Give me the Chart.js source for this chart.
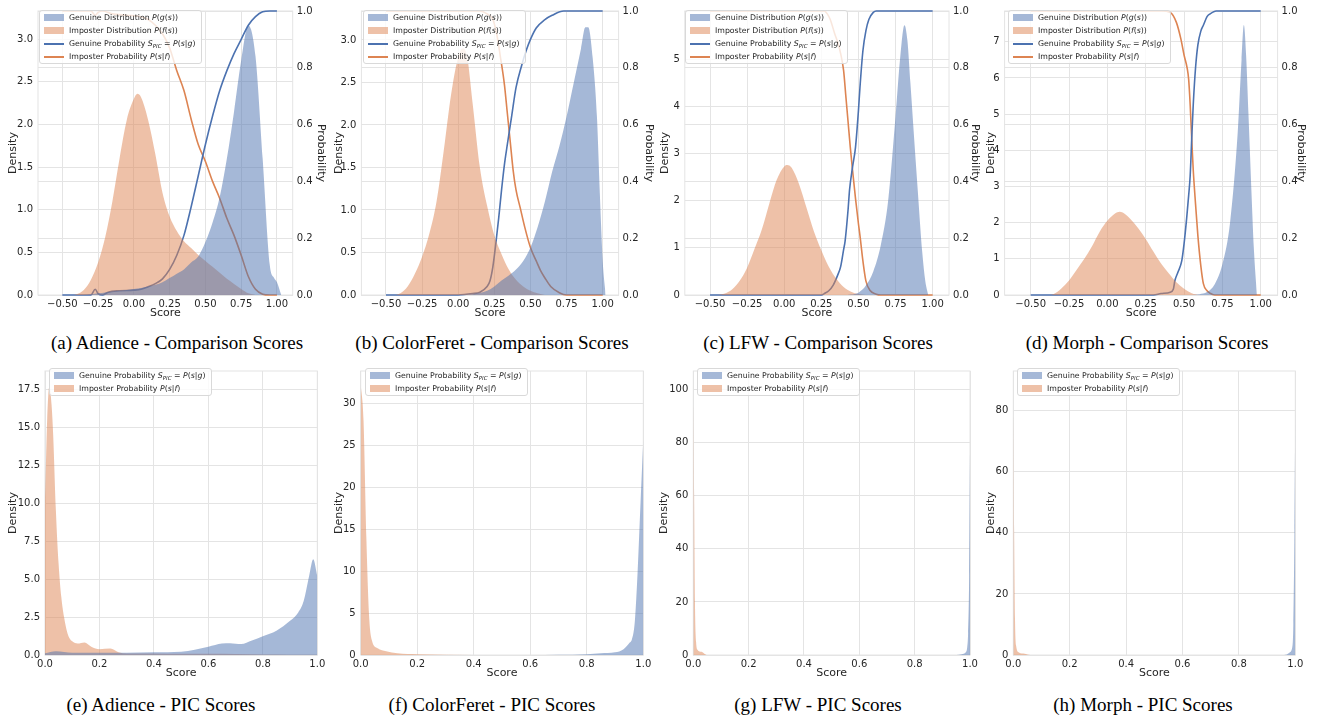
<!DOCTYPE html>
<html>
<head>
<meta charset="utf-8">
<script src="https://cdn.jsdelivr.net/npm/chart.js@4.4.1/dist/chart.umd.min.js"></script>
<style>
  body { margin: 0; background: #fff; width: 1318px; height: 721px; overflow: hidden; position: relative; font-family: "DejaVu Sans", sans-serif; }
  canvas { position: absolute; }
  .legenda { position: absolute; background: rgba(255,255,255,0.8); border: 1px solid #d9d9d9; border-radius: 3px; font-size: 7.8px; color: #262626; padding: 0 5px 0 4px; }
  .legenda-item { height: 13px; display: flex; align-items: center; white-space: nowrap; }
  .legenda-cor { display: inline-block; width: 20px; height: 7px; margin-right: 5px; }
  .legenda-linha { display: inline-block; width: 20px; height: 2px; margin-right: 5px; }
  .legenda-item sub { font-size: 5.5px; font-style: italic; vertical-align: baseline; position: relative; top: 1.5px; }
  .caption { position: absolute; width: 330px; font-family: "Liberation Serif", "Times New Roman", serif; font-size: 19px; color: #000; text-align: center; white-space: nowrap; }
</style>
</head>
<body>
<script>
// --- dados: pares [score, valor] ---
// (a) Adience - comparison scores
const aGenDist = [[-0.5,0],[-0.35,0],[-0.3,0.01],[-0.25,0.02],[-0.2,0.03],[-0.1,0.05],[0,0.07],[0.1,0.1],[0.2,0.15],[0.25,0.2],[0.3,0.25],[0.35,0.3],[0.4,0.38],[0.45,0.45],[0.5,0.62],[0.55,0.85],[0.6,1.15],[0.65,1.6],[0.7,2.15],[0.75,2.75],[0.8,3.16],[0.85,2.8],[0.9,1.6],[0.95,0.35],[0.98,0.2],[1.0,0.15],[1.03,0]];
const aImpDist = [[-0.5,0],[-0.45,0],[-0.4,0.01],[-0.35,0.06],[-0.3,0.18],[-0.25,0.38],[-0.2,0.68],[-0.15,1.1],[-0.1,1.6],[-0.05,2.05],[0,2.3],[0.025,2.36],[0.05,2.32],[0.1,2.05],[0.15,1.65],[0.2,1.2],[0.25,0.92],[0.3,0.75],[0.35,0.63],[0.4,0.55],[0.45,0.47],[0.5,0.4],[0.55,0.33],[0.6,0.26],[0.65,0.19],[0.7,0.13],[0.75,0.07],[0.8,0.02],[0.85,0]];
const aGenProb = [[-0.5,0],[-0.3,0],[-0.27,0.02],[-0.25,0.005],[-0.22,0],[-0.18,0.01],[-0.1,0.015],[0,0.017],[0.05,0.02],[0.1,0.029],[0.15,0.04],[0.2,0.057],[0.25,0.09],[0.3,0.14],[0.35,0.21],[0.4,0.31],[0.45,0.42],[0.5,0.53],[0.55,0.63],[0.6,0.72],[0.65,0.79],[0.7,0.85],[0.75,0.9],[0.8,0.95],[0.85,0.98],[0.9,0.997],[0.95,1],[1.0,1]];
const aImpProb = [[-0.5,1],[-0.3,1],[-0.27,0.985],[-0.25,0.995],[-0.22,1],[-0.15,0.99],[-0.05,0.985],[0.05,0.98],[0.1,0.97],[0.15,0.95],[0.2,0.92],[0.25,0.87],[0.3,0.79],[0.35,0.72],[0.4,0.62],[0.45,0.53],[0.5,0.47],[0.55,0.4],[0.6,0.34],[0.65,0.27],[0.7,0.21],[0.75,0.14],[0.8,0.065],[0.85,0.02],[0.9,0.003],[0.95,0],[1.0,0]];

// (b) ColorFeret - comparison scores
const bGenDist = [[-0.5,0],[0,0],[0.1,0.01],[0.2,0.05],[0.25,0.1],[0.3,0.17],[0.35,0.23],[0.4,0.3],[0.45,0.4],[0.5,0.56],[0.55,0.8],[0.6,1.1],[0.65,1.45],[0.7,1.75],[0.75,2.1],[0.8,2.5],[0.85,2.9],[0.88,3.15],[0.9,3.15],[0.93,2.8],[0.96,2.1],[0.98,1.2],[1.0,0.4],[1.02,0]];
const bImpDist = [[-0.5,0],[-0.45,0],[-0.4,0.02],[-0.35,0.1],[-0.3,0.25],[-0.25,0.45],[-0.2,0.72],[-0.15,1.1],[-0.1,1.7],[-0.05,2.35],[0,2.8],[0.03,2.9],[0.06,2.82],[0.1,2.25],[0.15,1.5],[0.2,1.05],[0.25,0.7],[0.3,0.48],[0.35,0.3],[0.4,0.18],[0.45,0.1],[0.5,0.05],[0.55,0.02],[0.6,0]];
const bGenProb = [[-0.5,0],[0,0],[0.1,0.005],[0.15,0.01],[0.2,0.03],[0.22,0.05],[0.24,0.1],[0.26,0.18],[0.28,0.27],[0.3,0.37],[0.32,0.46],[0.34,0.53],[0.37,0.63],[0.4,0.73],[0.44,0.81],[0.47,0.86],[0.5,0.9],[0.54,0.94],[0.6,0.97],[0.65,0.985],[0.73,1],[1.0,1]];
const bImpProb = [[-0.5,1],[0.15,1],[0.2,0.99],[0.24,0.97],[0.27,0.91],[0.29,0.845],[0.32,0.74],[0.34,0.64],[0.36,0.54],[0.38,0.44],[0.4,0.37],[0.43,0.305],[0.46,0.24],[0.5,0.167],[0.54,0.12],[0.57,0.086],[0.6,0.06],[0.64,0.03],[0.7,0.008],[0.75,0],[1.0,0]];

// (c) LFW - comparison scores
const cGenDist = [[-0.5,0],[0.4,0],[0.45,0.01],[0.5,0.05],[0.55,0.2],[0.6,0.5],[0.65,1.05],[0.7,2.0],[0.75,3.8],[0.78,5.0],[0.81,5.73],[0.83,5.4],[0.85,4.5],[0.88,3.1],[0.9,2.2],[0.93,0.9],[0.95,0.3],[0.97,0]];
const cImpDist = [[-0.5,0],[-0.45,0],[-0.4,0.03],[-0.35,0.12],[-0.3,0.3],[-0.25,0.58],[-0.2,0.98],[-0.15,1.4],[-0.1,1.95],[-0.05,2.45],[0,2.73],[0.02,2.76],[0.05,2.7],[0.1,2.35],[0.15,1.85],[0.2,1.35],[0.25,0.95],[0.3,0.6],[0.35,0.35],[0.4,0.17],[0.45,0.07],[0.5,0.02],[0.55,0]];
const cGenProb = [[-0.5,0],[0.25,0],[0.27,0.005],[0.3,0.015],[0.33,0.035],[0.36,0.07],[0.38,0.1],[0.4,0.16],[0.41,0.19],[0.43,0.3],[0.44,0.37],[0.46,0.45],[0.48,0.52],[0.5,0.65],[0.51,0.73],[0.53,0.86],[0.55,0.93],[0.57,0.97],[0.6,0.995],[0.62,1],[1.0,1]];
const cImpProb = [[-0.5,1],[0.27,1],[0.29,0.99],[0.31,0.97],[0.34,0.92],[0.36,0.89],[0.38,0.85],[0.4,0.79],[0.415,0.7],[0.43,0.61],[0.445,0.52],[0.46,0.44],[0.48,0.34],[0.5,0.25],[0.51,0.21],[0.53,0.12],[0.55,0.05],[0.58,0.015],[0.62,0.003],[0.65,0],[1.0,0]];

// (d) Morph - comparison scores
const dGenDist = [[-0.5,0],[0.55,0],[0.6,0.02],[0.65,0.08],[0.7,0.3],[0.75,0.85],[0.8,2.0],[0.85,4.5],[0.875,6.5],[0.89,7.46],[0.905,6.6],[0.92,5.0],[0.94,2.8],[0.955,1.3],[0.975,0]];
const dImpDist = [[-0.5,0],[-0.4,0],[-0.35,0.03],[-0.3,0.18],[-0.25,0.4],[-0.2,0.7],[-0.15,1.0],[-0.1,1.35],[-0.05,1.75],[0,2.05],[0.05,2.25],[0.08,2.3],[0.1,2.28],[0.15,2.1],[0.2,1.85],[0.25,1.55],[0.3,1.2],[0.35,0.87],[0.4,0.6],[0.45,0.35],[0.5,0.17],[0.55,0.05],[0.6,0]];
const dGenProb = [[-0.5,0],[0.3,0],[0.35,0.005],[0.41,0.01],[0.43,0.02],[0.44,0.05],[0.46,0.08],[0.485,0.12],[0.5,0.18],[0.517,0.27],[0.53,0.35],[0.54,0.42],[0.55,0.55],[0.56,0.67],[0.575,0.8],[0.59,0.88],[0.61,0.93],[0.626,0.95],[0.65,0.98],[0.67,0.99],[0.71,1],[1.0,1]];
const dImpProb = [[-0.5,1],[0.35,1],[0.41,0.995],[0.45,0.96],[0.48,0.9],[0.5,0.845],[0.52,0.8],[0.53,0.76],[0.54,0.67],[0.55,0.55],[0.56,0.44],[0.575,0.32],[0.59,0.21],[0.61,0.1],[0.626,0.04],[0.65,0.015],[0.67,0.006],[0.7,0],[1.0,0]];

// (e)-(h) PIC scores
const eGen = [[0,0.12],[0.04,0.25],[0.1,0.15],[0.2,0.15],[0.3,0.15],[0.4,0.18],[0.5,0.22],[0.55,0.35],[0.6,0.55],[0.65,0.75],[0.68,0.78],[0.72,0.72],[0.76,0.95],[0.8,1.23],[0.85,1.6],[0.9,2.25],[0.93,2.8],[0.95,3.55],[0.97,5.2],[0.985,6.3],[1.0,5.2]];
const eImp = [[0,10],[0.008,15.5],[0.016,17.7],[0.024,16.5],[0.03,14.5],[0.04,9.5],[0.05,6.0],[0.06,3.8],[0.07,2.5],[0.08,1.6],[0.09,1.1],[0.1,0.9],[0.12,0.75],[0.145,0.82],[0.17,0.55],[0.2,0.38],[0.24,0.42],[0.27,0.18],[0.3,0.1],[0.4,0.1],[0.5,0.08],[0.6,0.08],[0.7,0.06],[0.8,0.03],[0.9,0.02],[1.0,0.01]];
const fGen = [[0,0],[0.6,0],[0.7,0.03],[0.8,0.1],[0.85,0.22],[0.9,0.32],[0.93,0.7],[0.95,1.4],[0.96,1.9],[0.97,4],[0.98,10],[0.99,18],[1.0,25.7]];
const fImp = [[0,32.3],[0.01,28],[0.02,14],[0.03,4.5],[0.04,1.7],[0.06,0.8],[0.09,0.45],[0.13,0.2],[0.2,0.08],[0.3,0.04],[0.5,0.01],[0.7,0],[1.0,0]];
const gGen = [[0,0],[0.95,0],[0.97,0.3],[0.985,1],[0.99,3],[0.993,8],[0.997,30],[1.0,77]];
const gImp = [[0,95],[0.003,60],[0.006,20],[0.01,5],[0.015,2],[0.03,1.2],[0.04,0.5],[0.05,0],[1.0,0]];
const hGen = [[0,0],[0.95,0],[0.97,0.2],[0.98,0.8],[0.99,3],[0.993,10],[0.997,40],[1.0,80]];
const hImp = [[0,80],[0.003,40],[0.006,12],[0.01,3],[0.02,0.8],[0.04,0.4],[0.06,0],[1.0,0]];

// ticks
const xTicksComp = [-0.5, -0.25, 0, 0.25, 0.5, 0.75, 1.0];
const xTicksPic = [0, 0.2, 0.4, 0.6, 0.8, 1.0];
const probTicks = [0, 0.2, 0.4, 0.6, 0.8, 1.0];
const abDensTicks = [0, 0.5, 1, 1.5, 2, 2.5, 3];
const cDensTicks = [0, 1, 2, 3, 4, 5];
const dDensTicks = [0, 1, 2, 3, 4, 5, 6, 7];
const eDensTicks = [0, 2.5, 5, 7.5, 10, 12.5, 15, 17.5];
const fDensTicks = [0, 5, 10, 15, 20, 25, 30];
const gDensTicks = [0, 20, 40, 60, 80, 100];
const hDensTicks = [0, 20, 40, 60, 80];

const captions = [
  '(a) Adience - Comparison Scores', '(b) ColorFeret - Comparison Scores',
  '(c) LFW - Comparison Scores', '(d) Morph - Comparison Scores',
  '(e) Adience - PIC Scores', '(f) ColorFeret - PIC Scores',
  '(g) LFW - PIC Scores', '(h) Morph - PIC Scores'
];

// --- estilo ---
const AZUL = '#4c72b0', LARANJA = '#dd8452';
const AZUL_FILL = 'rgba(76,114,176,0.5)', LARANJA_FILL = 'rgba(221,132,82,0.5)';
const corGrade = '#e4e4e4';
const corTexto = '#262626';
const fonteTick = { family: 'DejaVu Sans', size: 10 };
const fonteTitulo = { family: 'DejaVu Sans', size: 11 };

const fmt2 = v => v.toFixed(2).replace('-', '\u2212');
const fmt1 = v => v.toFixed(1);
const fmt0 = v => String(v);

const pts = arr => arr.map(([x, y]) => ({ x, y }));
const fixarTicks = lista => axis => { axis.ticks = lista.map(v => ({ value: v })); };

function distribuicao(pares, cor) {
  return { data: pts(pares), backgroundColor: cor, borderColor: 'rgba(0,0,0,0)', borderWidth: 1,
           fill: 'origin', pointRadius: 0, cubicInterpolationMode: 'monotone', yAxisID: 'y' };
}
function probabilidade(pares, cor) {
  return { data: pts(pares), borderColor: cor, borderWidth: 1.6, fill: false, pointRadius: 0,
           cubicInterpolationMode: 'monotone', yAxisID: 'y1', clip: 3 };
}

// moldura clara em volta da area do grafico
const moldura = {
  id: 'moldura',
  beforeDatasetsDraw(chart) {
    const { ctx, chartArea: a } = chart;
    ctx.save();
    ctx.strokeStyle = corGrade;
    ctx.lineWidth = 1;
    ctx.strokeRect(a.left, a.top, a.right - a.left, a.bottom - a.top);
    ctx.restore();
  }
};

// posicoes dos paineis
const paineis = [
  { x0: 0,   y0: 0, w: 330, L: 38,   R: 37.3, densPad: 6.4, probPad: 2.2, yMax: 3.33, yTicks: abDensTicks, yFmt: fmt1,
    sets: [distribuicao(aGenDist, AZUL_FILL), distribuicao(aImpDist, LARANJA_FILL), probabilidade(aGenProb, AZUL), probabilidade(aImpProb, LARANJA)] },
  { x0: 330, y0: 0, w: 330, L: 31.4, R: 41.4, densPad: 2.7, probPad: 4.6, yMax: 3.34, yTicks: abDensTicks, yFmt: fmt1,
    sets: [distribuicao(bGenDist, AZUL_FILL), distribuicao(bImpDist, LARANJA_FILL), probabilidade(bGenProb, AZUL), probabilidade(bImpProb, LARANJA)] },
  { x0: 655, y0: 0, w: 331, L: 29.8, R: 37,   densPad: 3.1, probPad: 5, yMax: 6.03, yTicks: cDensTicks, yFmt: fmt0,
    sets: [distribuicao(cGenDist, AZUL_FILL), distribuicao(cImpDist, LARANJA_FILL), probabilidade(cGenProb, AZUL), probabilidade(cImpProb, LARANJA)] },
  { x0: 982, y0: 0, w: 330, L: 22.6, R: 34.4, densPad: 2.4, probPad: 5, yMax: 7.85, yTicks: dDensTicks, yFmt: fmt0,
    sets: [distribuicao(dGenDist, AZUL_FILL), distribuicao(dImpDist, LARANJA_FILL), probabilidade(dGenProb, AZUL), probabilidade(dImpProb, LARANJA)] },
  { x0: 0,   y0: 360, w: 329, L: 45,   R: 11.7, densPad: 6.1, yMax: 18.7, yTicks: eDensTicks, yFmt: fmt1,
    sets: [distribuicao(eGen, AZUL_FILL), distribuicao(eImp, LARANJA_FILL)] },
  { x0: 330, y0: 360, w: 325, L: 30.7, R: 11.7, densPad: 2.7, yMax: 33.9, yTicks: fDensTicks, yFmt: fmt0,
    sets: [distribuicao(fGen, AZUL_FILL), distribuicao(fImp, LARANJA_FILL)] },
  { x0: 655, y0: 360, w: 327, L: 38.3, R: 12,   densPad: 2.4, yMax: 107, yTicks: gDensTicks, yFmt: fmt0,
    sets: [distribuicao(gGen, AZUL_FILL), distribuicao(gImp, LARANJA_FILL)] },
  { x0: 983, y0: 360, w: 324, L: 30.3, R: 11.7, densPad: 1.4, yMax: 93, yTicks: hDensTicks, yFmt: fmt0,
    sets: [distribuicao(hGen, AZUL_FILL), distribuicao(hImp, LARANJA_FILL)] }
];

function criarGrafico(p) {
  const canvas = document.createElement('canvas');
  canvas.width = p.w;
  canvas.height = 320;
  canvas.style.left = p.x0 + 'px';
  canvas.style.top = p.y0 + 'px';
  document.body.appendChild(canvas);

  const comp = p.sets.length === 4;
  const scales = {
    x: {
      type: 'linear', min: comp ? -0.67 : 0, max: comp ? 1.11 : 1,
      afterBuildTicks: fixarTicks(comp ? xTicksComp : xTicksPic),
      afterFit: s => { s.height = 25; },
      grid: { color: corGrade, drawTicks: false }, border: { display: false },
      ticks: { font: fonteTick, color: corTexto, padding: 3, maxRotation: 0, autoSkip: false, callback: comp ? fmt2 : fmt1 },
      title: { display: true, text: 'Score', font: fonteTitulo, color: corTexto, padding: { top: 0, bottom: 0 } }
    },
    y: {
      type: 'linear', position: 'left', min: 0, max: p.yMax,
      afterBuildTicks: fixarTicks(p.yTicks),
      afterFit: s => { s.width = p.L; },
      grid: { color: corGrade, drawTicks: false }, border: { display: false },
      ticks: { font: fonteTick, color: corTexto, padding: 5, autoSkip: false, callback: p.yFmt },
      title: { display: true, text: 'Density', font: fonteTitulo, color: corTexto, padding: { top: p.densPad, bottom: 0 } }
    }
  };
  if (comp) {
    scales.y1 = {
      type: 'linear', position: 'right', min: 0, max: 1,
      afterBuildTicks: fixarTicks(probTicks),
      afterFit: s => { s.width = p.R; },
      grid: { color: corGrade, drawTicks: false }, border: { display: false },
      ticks: { font: fonteTick, color: corTexto, padding: 4, autoSkip: false, callback: fmt1 },
      title: { display: true, text: 'Probability', font: fonteTitulo, color: corTexto, padding: { top: p.probPad, bottom: 0 } }
    };
  }

  return new Chart(canvas.getContext('2d'), {
    type: 'line',
    data: { datasets: p.sets },
    options: {
      responsive: false,
      animation: false,
      events: [],
      layout: { padding: { top: p.y0 === 0 ? 5 : 4, right: comp ? 0 : p.R, left: 0, bottom: 0 } },
      scales: scales,
      plugins: { legend: { display: false }, tooltip: { enabled: false } }
    },
    plugins: [moldura]
  });
}

const rotGenDist = 'Genuine Distribution <i>P</i>(<i>g</i>(<i>s</i>))';
const rotImpDist = 'Imposter Distribution <i>P</i>(<i>f</i>(<i>s</i>))';
const rotGenProb = 'Genuine Probability <i>S</i><sub>PIC</sub> = <i>P</i>(<i>s</i>|<i>g</i>)';
const rotImpProb = 'Imposter Probability <i>P</i>(<i>s</i>|<i>f</i>)';

function criarLegenda(left, top, itens) {
  const box = document.createElement('div');
  box.className = 'legenda';
  box.style.left = left + 'px';
  box.style.top = top + 'px';
  itens.forEach(([tipo, cor, texto]) => {
    const item = document.createElement('div');
    item.className = 'legenda-item';
    item.innerHTML = `<span class="${tipo}" style="background-color: ${cor};"></span><span>${texto}</span>`;
    box.appendChild(item);
  });
  document.body.appendChild(box);
}

paineis.forEach(criarGrafico);

const itensComp = [
  ['legenda-cor', AZUL_FILL, rotGenDist], ['legenda-cor', LARANJA_FILL, rotImpDist],
  ['legenda-linha', AZUL, rotGenProb], ['legenda-linha', LARANJA, rotImpProb]
];
const itensPic = [['legenda-cor', AZUL_FILL, rotGenProb], ['legenda-cor', LARANJA_FILL, rotImpProb]];
[[39, 10], [363, 10], [685, 10], [1008, 10]].forEach(([l, t]) => criarLegenda(l, t, itensComp));
[[49, 368], [365, 368], [697, 368], [1017, 368]].forEach(([l, t]) => criarLegenda(l, t, itensPic));

// legendas das figuras
const centros = [177, 492, 818, 1147, 161, 492, 818, 1143];
captions.forEach((txt, i) => {
  const d = document.createElement('div');
  d.className = 'caption';
  d.textContent = txt;
  d.style.left = (centros[i] - 165) + 'px';
  d.style.top = (i < 4 ? 332 : 694) + 'px';
  document.body.appendChild(d);
});
</script>
</body>
</html>
